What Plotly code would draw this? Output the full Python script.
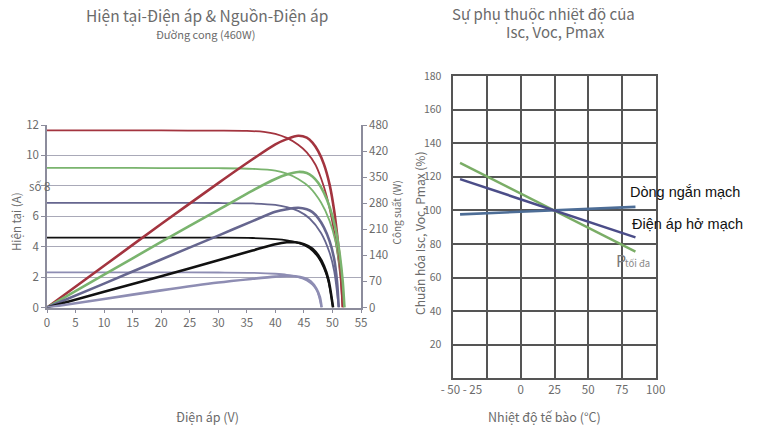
import plotly.graph_objects as go

# ---------------- Left chart data (I-V and P-V curves) ----------------
series_names = ["1000 W/m²", "800 W/m²", "600 W/m²", "400 W/m²", "200 W/m²"]
series_colors = ["#a3343f", "#7ab46e", "#66668f", "#111111", "#8e8db3"]

iv_voltage = [
    [0, 10, 20, 30, 35, 38, 40, 42, 44, 45.5, 47, 48, 49, 50, 50.8, 51.4, 51.8],
    [0, 10, 20, 30, 36, 40, 42, 44, 46, 48, 49.5, 50.5, 51.3, 52.1],
    [0, 10, 20, 30, 36, 40, 42, 44, 46, 48, 49.5, 50.3, 51.1],
    [0, 10, 20, 30, 36, 40, 42, 44, 46, 47.5, 48.5, 49.3, 50.1],
    [0, 10, 20, 30, 36, 40, 42, 44, 45.5, 46.5, 47.3, 48.1],
]
iv_current = [
    [11.65, 11.65, 11.64, 11.63, 11.61, 11.55, 11.42, 11.15, 10.7, 10.2, 9.4, 8.5, 7.3, 5.6, 3.8, 2.0, 0],
    [9.18, 9.18, 9.17, 9.16, 9.12, 9.0, 8.8, 8.45, 7.9, 6.9, 5.7, 4.4, 2.6, 0],
    [6.88, 6.88, 6.88, 6.87, 6.84, 6.75, 6.6, 6.35, 5.85, 4.9, 3.6, 2.4, 0],
    [4.6, 4.6, 4.6, 4.59, 4.57, 4.5, 4.42, 4.25, 3.9, 3.3, 2.6, 1.7, 0],
    [2.31, 2.31, 2.31, 2.3, 2.28, 2.22, 2.15, 2.0, 1.78, 1.5, 1.1, 0],
]

pv_voltage = [
    [0, 10, 20, 30, 36, 40, 42, 44, 45.5, 46.5, 47.5, 48.5, 49.5, 50.3, 51, 51.5, 51.8],
    [0, 10, 20, 30, 36, 40, 42, 44, 45.5, 46.5, 47.5, 48.5, 49.5, 50.5, 51.3, 51.8, 52.1],
    [0, 10, 20, 30, 36, 40, 42, 44, 45.5, 46.5, 47.5, 48.5, 49.5, 50.3, 50.8, 51.1],
    [0, 10, 20, 30, 36, 40, 42, 43.5, 45, 46.5, 47.5, 48.5, 49.3, 50.1],
    [0, 10, 20, 30, 36, 40, 42, 43.5, 45, 46.2, 47.2, 47.8, 48.1],
]
pv_power = [
    [0, 112, 224, 334, 398, 438, 452, 461, 456, 443, 420, 385, 330, 260, 170, 90, 0],
    [0, 88, 176, 262, 314, 345, 357, 364, 361, 352, 335, 308, 270, 215, 140, 70, 0],
    [0, 64, 129, 193, 232, 257, 264, 268, 264, 256, 240, 215, 178, 130, 70, 0],
    [0, 42, 84, 127, 153, 170, 175, 175, 170, 158, 140, 112, 75, 0],
    [0, 23, 46, 67, 77, 83, 85, 84, 79, 70, 50, 28, 0],
]

left_x_ticks = [0, 5, 10, 15, 20, 25, 30, 35, 40, 45, 50, 55]
left_y_ticks = [0, 2, 4, 6, 8, 10, 12]
left_y_text = ["0", "2", "4", "6", "", "10", "12"]
left_y_special = "số 8"
right_y2_ticks = [0, 70, 140, 210, 280, 350, 420, 490]
right_y2_text = ["0", "70", "140", "210", "280", "350", "420", "480"]

# ---------------- Right chart data (temperature dependence) ----------------
temp = [-45, 25, 85]
isc_norm = [97.6, 100, 102.1]
voc_norm = [118.6, 100, 83.9]
pmax_norm = [128.3, 100, 75.4]
temp_grid = [-50, -25, 0, 25, 50, 75, 100]
temp_tick_vals = [-44, 0, 25, 50, 75, 100]
temp_tick_text = ["- 50 - 25", "0", "25", "50", "75", "100"]
norm_ticks = [20, 40, 60, 80, 100, 120, 140, 160, 180]

FONT = "Noto Sans CJK SC, Noto Sans, sans-serif"
GRAY = "#6b6b6b"

fig = go.Figure()

for i in range(len(series_names)):
    fig.add_trace(go.Scatter(
        x=iv_voltage[i], y=iv_current[i], mode="lines",
        line=dict(color=series_colors[i], width=1.8, shape="spline", smoothing=0.8),
        name=series_names[i] + " I", xaxis="x", yaxis="y", showlegend=False))
    fig.add_trace(go.Scatter(
        x=pv_voltage[i], y=pv_power[i], mode="lines",
        line=dict(color=series_colors[i], width=2.6, shape="spline", smoothing=0.8),
        name=series_names[i] + " P", xaxis="x", yaxis="y2", showlegend=False))

fig.add_trace(go.Scatter(x=temp, y=isc_norm, mode="lines",
                         line=dict(color="#4d6d96", width=2.6),
                         xaxis="x3", yaxis="y3", showlegend=False, name="Isc"))
fig.add_trace(go.Scatter(x=temp, y=pmax_norm, mode="lines",
                         line=dict(color="#7aad66", width=2.4),
                         xaxis="x3", yaxis="y3", showlegend=False, name="Pmax"))
fig.add_trace(go.Scatter(x=temp, y=voc_norm, mode="lines",
                         line=dict(color="#4b4d88", width=2.6),
                         xaxis="x3", yaxis="y3", showlegend=False, name="Voc"))

# The page body has an 8px default margin, so the figure is placed at (8, 8).
OFF = 8
W, H = 759 - OFF, 430 - OFF


def fx(x):
    return (x - OFF) / W


def fy(y):
    return 1 - (y - OFF) / H


left_dom_x = [fx(47), fx(361)]
left_dom_y = [fy(307.5), fy(125)]
right_dom_x = [fx(453.3), fx(655.7)]
right_dom_y = [fy(378.3), fy(76)]

tickfont = dict(family=FONT, size=11.5, color=GRAY)


def ann(text, x, y, size, color=GRAY, family=FONT, anchor="center", angle=0, align="center"):
    return dict(text=text, x=fx(x), y=fy(y), xref="paper", yref="paper", showarrow=False,
                xanchor=anchor, yanchor="middle", textangle=angle, align=align,
                font=dict(family=family, size=size, color=color))


annotations = [
    ann("Hiện tại-Điện áp & Nguồn-Điện áp", 207, 15, 15.5),
    ann("Đường cong (460W)", 205, 33.5, 11),
    ann("Sự phụ thuộc nhiệt độ của", 543, 13.5, 15),
    ann("Isc, Voc, Pmax", 555, 31.5, 15),
    ann("Điện áp (V)", 207, 416, 12.5),
    ann("Hiện tại (A)", 16, 222, 11.5, angle=-90),
    ann("Công suất (W)", 396.5, 213, 10, angle=-90),
    ann("Nhiệt độ tế bào (°C)", 544, 416, 12.5),
    ann("Chuẩn hóa Isc, Voc, Pmax (%)", 419, 234, 12, angle=-90),
    ann("Dòng ngắn mạch", 628, 191.5, 14.5, color="#111111",
        family="Liberation Sans, Arial", anchor="left"),
    ann("Điện áp hở mạch", 629.5, 223.5, 14.5, color="#111111",
        family="Liberation Sans, Arial", anchor="left"),
    ann("P", 613.5, 260, 16, color="#7a7a7a", anchor="left"),
    ann("tối đa", 622.5, 262.5, 9.5, color="#8a8a8a", anchor="left"),
]
annotations.append(dict(text=left_y_special, x=fx(39), y=8, xref="paper", yref="y",
                        showarrow=False, xanchor="center", yanchor="middle",
                        font=dict(family=FONT, size=11.5, color=GRAY)))

fig.update_layout(
    width=W, height=H,
    margin=dict(l=0, r=0, t=0, b=0, autoexpand=False),
    paper_bgcolor="white", plot_bgcolor="white",
    font=dict(family=FONT, color=GRAY),
    xaxis=dict(domain=left_dom_x, range=[0, 55], tickvals=left_x_ticks,
               showgrid=False, zeroline=False, showline=True, linecolor="#8c8c9c",
               linewidth=1.5, ticks="outside", ticklen=4, tickcolor="#8c8c9c",
               tickfont=tickfont, anchor="y", automargin=False),
    yaxis=dict(domain=left_dom_y, range=[0, 12], tickvals=left_y_ticks, ticktext=left_y_text,
               showgrid=True, gridcolor="#a9a9b8", gridwidth=1.3, zeroline=False,
               showline=True, linecolor="#8c8c9c", linewidth=1.5,
               ticks="outside", ticklen=4, tickcolor="#8c8c9c", tickfont=tickfont,
               anchor="x", automargin=False),
    yaxis2=dict(range=[0, 490], tickvals=right_y2_ticks, ticktext=right_y2_text,
                overlaying="y", side="right", anchor="x", showgrid=False, zeroline=False,
                showline=True, linecolor="#8c8c9c", linewidth=1.5,
                ticks="outside", ticklen=4, tickcolor="#8c8c9c", tickfont=tickfont,
                automargin=False),
    xaxis3=dict(domain=right_dom_x, range=[-50, 100], tickvals=temp_tick_vals,
                ticktext=temp_tick_text, showgrid=False, zeroline=False,
                showline=True, mirror=True, linecolor="#555555", linewidth=1.5,
                ticks="", tickfont=tickfont, anchor="y3", automargin=False,
                minor=dict(tickvals=temp_grid, showgrid=True, gridcolor="#555555",
                           gridwidth=1.5, ticks="")),
    yaxis3=dict(domain=right_dom_y, range=[0, 180], tickvals=norm_ticks,
                showgrid=True, gridcolor="#555555", gridwidth=1.5, zeroline=False,
                showline=True, mirror=True, linecolor="#555555", linewidth=1.5,
                ticks="", tickfont=dict(family=FONT, size=10.5, color=GRAY),
                anchor="x3", automargin=False, ticklabelstandoff=8),
    annotations=annotations,
)

fig.write_html("out.html")
